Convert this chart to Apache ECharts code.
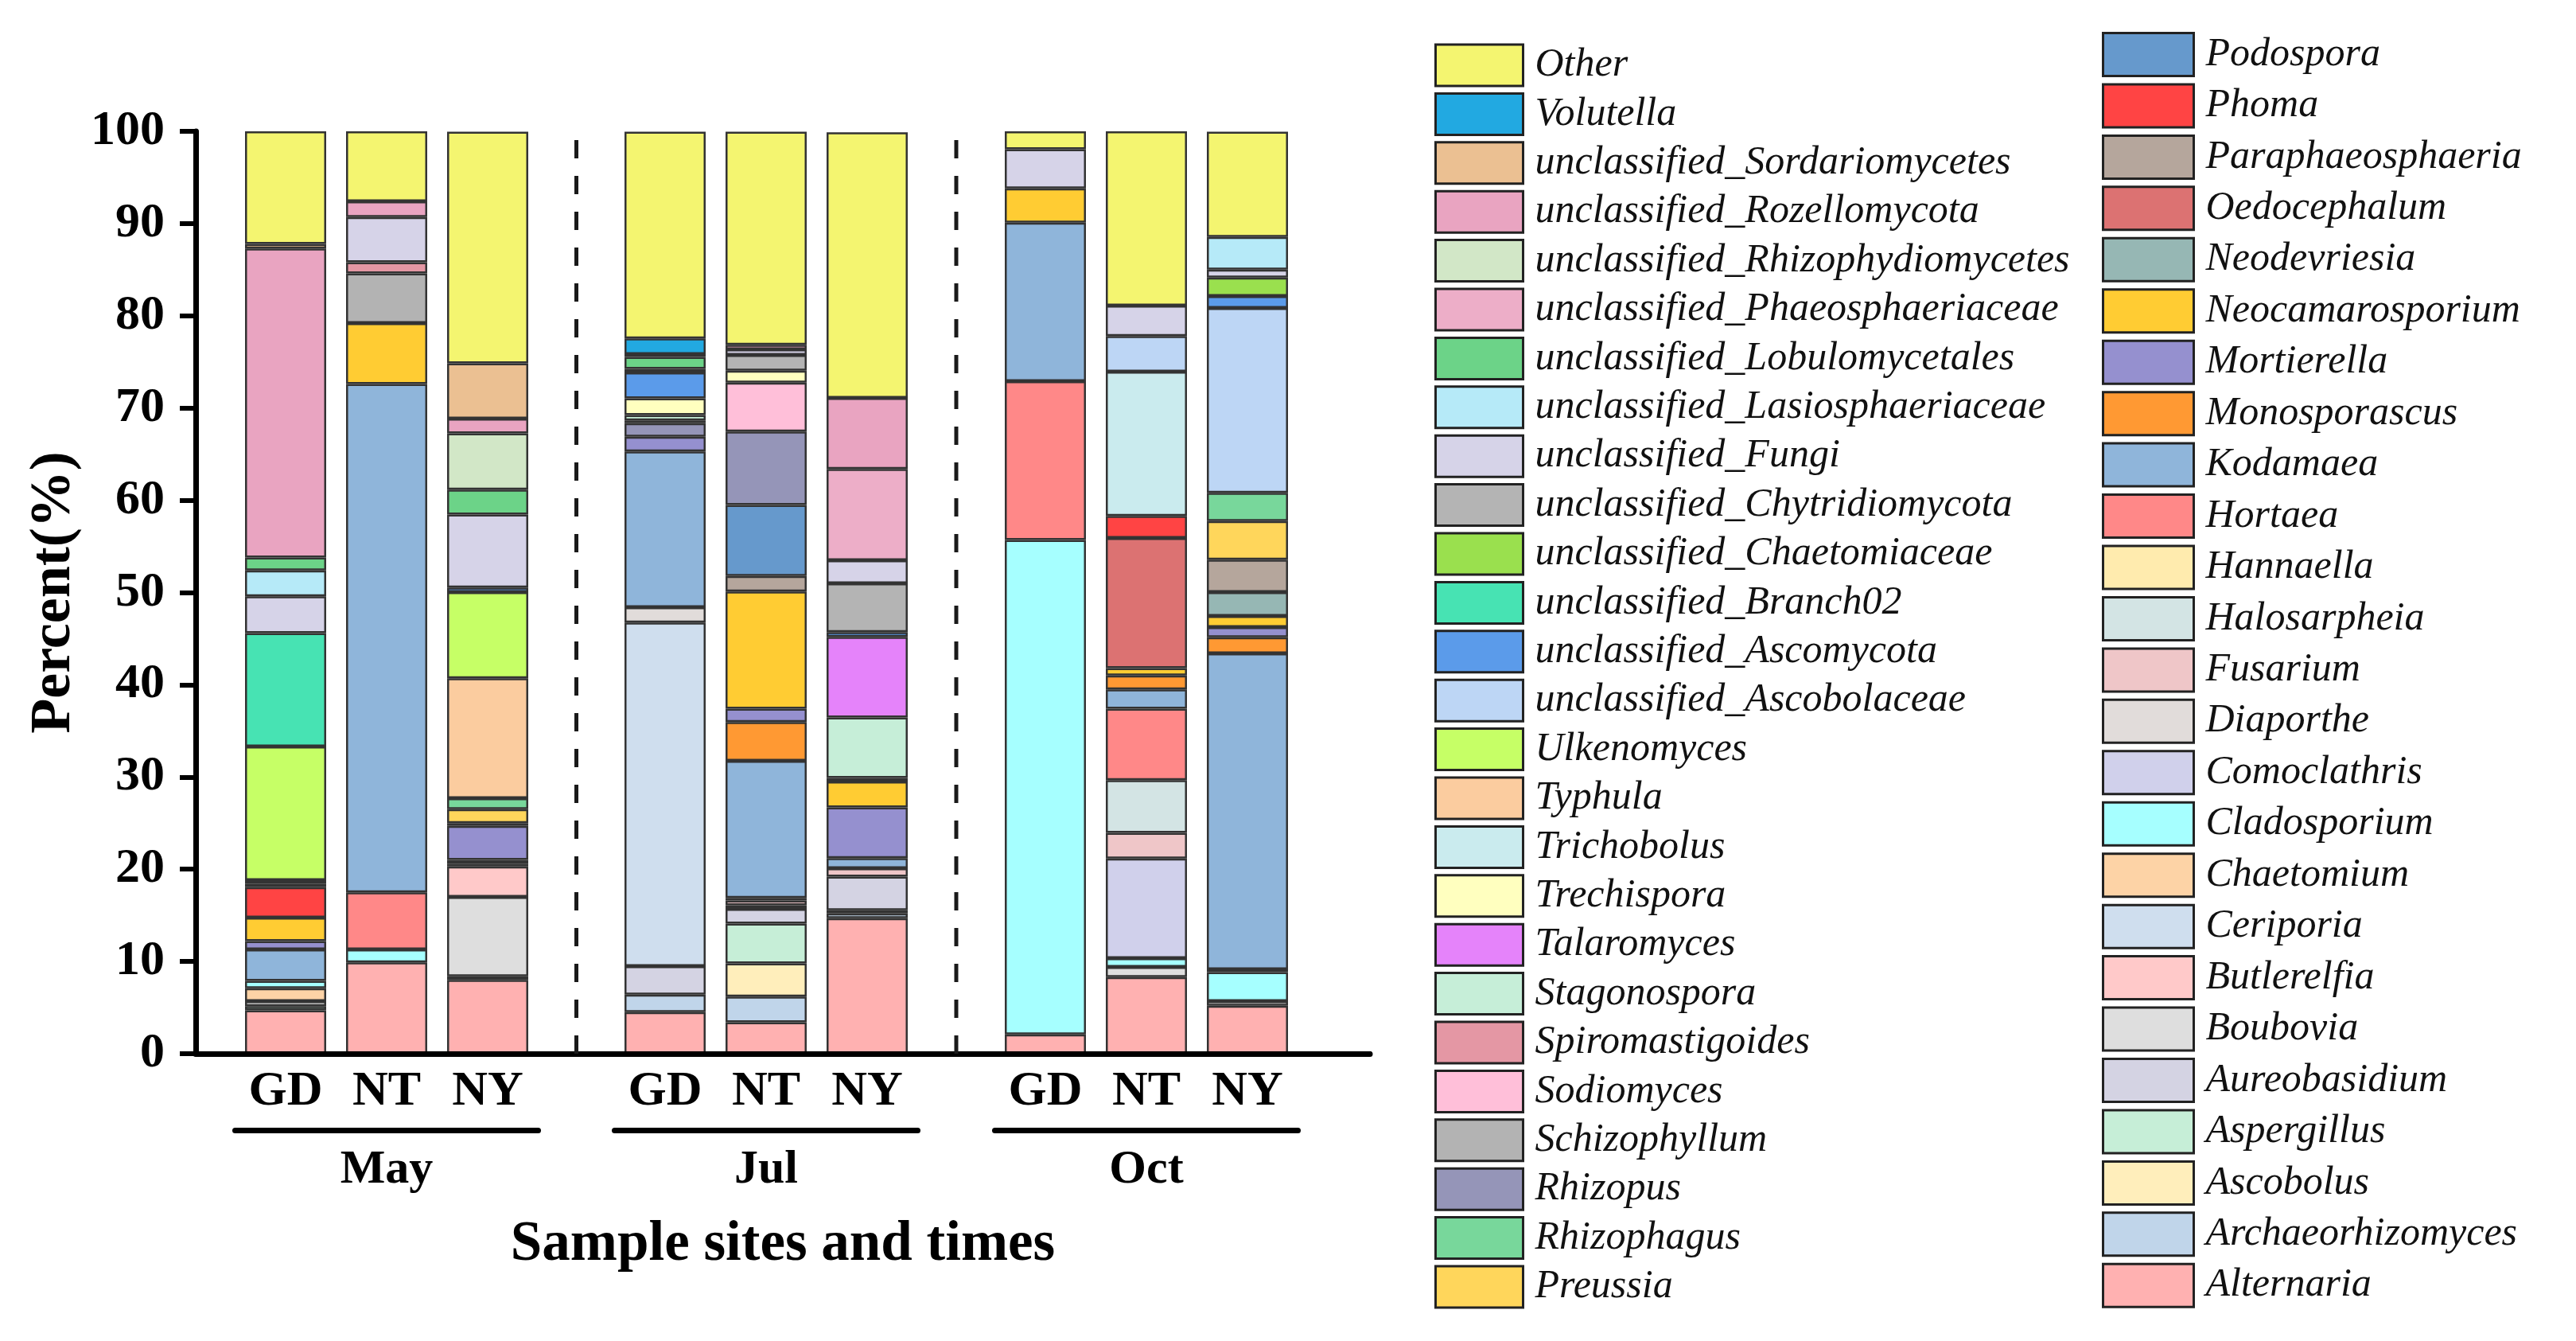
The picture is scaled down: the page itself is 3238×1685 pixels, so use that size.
<!DOCTYPE html>
<html>
<head>
<meta charset="utf-8">
<script src="https://cdn.jsdelivr.net/npm/echarts@6/dist/echarts.min.js"></script>
<style>
html,body{margin:0;padding:0;background:#fff;}
#chart{width:3238px;height:1685px;}
</style>
</head>
<body>
<div id="chart"></div>
<script>
// ---- categories ----
const months = ['May', 'Jul', 'Oct'];
const sites = ['GD', 'NT', 'NY'];
const yTicks = [0, 10, 20, 30, 40, 50, 60, 70, 80, 90, 100];

// legend columns (top to bottom as shown)
const legendCol1 = ['Other', 'Volutella', 'unclassified_Sordariomycetes', 'unclassified_Rozellomycota',
  'unclassified_Rhizophydiomycetes', 'unclassified_Phaeosphaeriaceae', 'unclassified_Lobulomycetales',
  'unclassified_Lasiosphaeriaceae', 'unclassified_Fungi', 'unclassified_Chytridiomycota',
  'unclassified_Chaetomiaceae', 'unclassified_Branch02', 'unclassified_Ascomycota',
  'unclassified_Ascobolaceae', 'Ulkenomyces', 'Typhula', 'Trichobolus', 'Trechispora', 'Talaromyces',
  'Stagonospora', 'Spiromastigoides', 'Sodiomyces', 'Schizophyllum', 'Rhizopus', 'Rhizophagus', 'Preussia'];
const legendCol2 = ['Podospora', 'Phoma', 'Paraphaeosphaeria', 'Oedocephalum', 'Neodevriesia',
  'Neocamarosporium', 'Mortierella', 'Monosporascus', 'Kodamaea', 'Hortaea', 'Hannaella', 'Halosarpheia',
  'Fusarium', 'Diaporthe', 'Comoclathris', 'Cladosporium', 'Chaetomium', 'Ceriporia', 'Butlerelfia',
  'Boubovia', 'Aureobasidium', 'Aspergillus', 'Ascobolus', 'Archaeorhizomyces', 'Alternaria'];

// ---- values (%), order: May GD, NT, NY | Jul GD, NT, NY | Oct GD, NT, NY ----
const Alternaria        = [4.7, 9.9, 8.0, 4.5, 3.4, 14.7, 2.1, 8.3, 5.2];
const Archaeorhizomyces = [0, 0, 0, 1.9, 2.8, 0.5, 0, 0, 0];
const Ascobolus         = [0, 0, 0, 0, 3.6, 0, 0, 0, 0];
const Aspergillus       = [0.45, 0, 0, 0, 4.3, 0.35, 0, 0, 0];
const Aureobasidium     = [0, 0, 0.4, 3.1, 1.6, 3.65, 0, 0, 0];
const Boubovia          = [0.55, 0, 8.6, 0, 0, 0, 0, 1.1, 0.5];
const Butlerelfia       = [0, 0, 3.3, 0, 0, 0, 0, 0, 0];
const Ceriporia         = [0, 0, 0, 37.25, 0, 0, 0, 0, 0];
const Chaetomium        = [1.4, 0, 0, 0, 0, 0, 0, 0, 0];
const Cladosporium      = [0.8, 1.4, 0.3, 0, 0, 0, 53.6, 0.95, 3.15];
const Comoclathris      = [0, 0, 0, 0, 0, 0, 0, 10.8, 0.3];
const Diaporthe         = [0, 0, 0, 1.65, 0.4, 0, 0, 0, 0];
const Fusarium          = [0, 0, 0, 0, 0.5, 0.9, 0, 2.8, 0];
const Halosarpheia      = [0, 0, 0, 0, 0.3, 0, 0, 5.7, 0];
const Hannaella         = [0, 0, 0, 0, 0, 0, 0, 0, 0];
const Hortaea           = [0, 6.2, 0, 0, 0, 0, 17.2, 7.75, 0];
const Kodamaea          = [3.4, 55.1, 0.4, 16.9, 14.85, 1.1, 17.2, 2.1, 34.25];
const Monosporascus     = [0, 0, 0, 0, 4.2, 0, 0, 1.5, 1.75];
const Mortierella       = [0.9, 0, 3.7, 1.6, 1.45, 5.5, 0, 0, 1.1];
const Neocamarosporium  = [2.55, 6.6, 0, 0, 12.7, 2.8, 3.7, 0.8, 1.2];
const Neodevriesia      = [0, 0, 0.3, 0, 0, 0, 0, 0, 2.6];
const Oedocephalum      = [0, 0, 0, 0, 0, 0, 0, 14.1, 0];
const Paraphaeosphaeria = [0, 0, 0, 0, 1.7, 0, 0, 0, 3.5];
const Phoma             = [3.3, 0, 0, 0, 0, 0, 0, 2.4, 0];
const Podospora         = [0, 0, 0, 0, 7.7, 0, 0, 0, 0];
const Preussia          = [0, 0, 1.5, 0, 0, 0, 0, 0, 4.2];
const Rhizophagus       = [0, 0, 1.2, 0, 0, 0, 0, 0, 3.05];
const Rhizopus          = [0.35, 0, 0, 1.45, 7.95, 0.4, 0, 0, 0];
const Schizophyllum     = [0, 5.4, 0, 0, 0, 0, 0, 0, 0];
const Sodiomyces        = [0, 0, 0, 0, 5.3, 0, 0, 0, 0];
const Spiromastigoides  = [0, 1.2, 0, 0.3, 0, 0, 0, 0, 0];
const Stagonospora      = [0, 0, 0, 0.6, 0, 6.55, 0, 0, 0];
const Talaromyces       = [0, 0, 0, 0, 0, 8.75, 0, 0, 0];
const Trechispora       = [0, 0, 0, 1.8, 1.3, 0, 0, 0, 0];
const Trichobolus       = [0, 0, 0, 0, 0, 0, 0, 15.65, 0];
const Typhula           = [0.4, 0, 13.0, 0, 0, 0, 0, 0, 0];
const Ulkenomyces       = [14.5, 0, 9.35, 0, 0, 0, 0, 0, 0];
const unclassified_Ascobolaceae      = [0, 0, 0, 0, 0, 0, 0, 3.85, 20.05];
const unclassified_Ascomycota        = [0, 0, 0.5, 2.8, 0, 0.5, 0, 0, 1.3];
const unclassified_Branch02          = [12.3, 0, 0, 0, 0, 0, 0, 0, 0];
const unclassified_Chaetomiaceae     = [0, 0, 0, 0, 0, 0, 0, 0, 2.0];
const unclassified_Chytridiomycota   = [0, 0, 0, 0, 1.7, 5.3, 0, 0, 0];
const unclassified_Fungi             = [4.0, 4.9, 7.9, 0.4, 0.6, 2.5, 4.25, 3.3, 0.85];
const unclassified_Lasiosphaeriaceae = [2.8, 0, 0, 0, 0, 0, 0, 0, 3.55];
const unclassified_Lobulomycetales   = [1.4, 0, 2.7, 1.3, 0, 0, 0, 0, 0];
const unclassified_Phaeosphaeriaceae = [0, 0, 0, 0, 0, 9.9, 0, 0, 0];
const unclassified_Rhizophydiomycetes= [0, 0, 6.1, 0, 0, 0, 0, 0, 0];
const unclassified_Rozellomycota     = [33.5, 1.7, 1.6, 0.3, 0.5, 7.7, 0, 0, 0];
const unclassified_Sordariomycetes   = [0.5, 0, 6.0, 0, 0, 0, 0, 0, 0];
const Volutella         = [0, 0, 0, 1.7, 0, 0, 0, 0, 0];
const Other             = [12.2, 7.6, 25.1, 22.4, 23.1, 28.8, 1.95, 18.9, 11.4];

const valuesByName = {Alternaria, Archaeorhizomyces, Ascobolus, Aspergillus, Aureobasidium, Boubovia,
  Butlerelfia, Ceriporia, Chaetomium, Cladosporium, Comoclathris, Diaporthe, Fusarium, Halosarpheia,
  Hannaella, Hortaea, Kodamaea, Monosporascus, Mortierella, Neocamarosporium, Neodevriesia, Oedocephalum,
  Paraphaeosphaeria, Phoma, Podospora, Preussia, Rhizophagus, Rhizopus, Schizophyllum, Sodiomyces,
  Spiromastigoides, Stagonospora, Talaromyces, Trechispora, Trichobolus, Typhula, Ulkenomyces,
  unclassified_Ascobolaceae, unclassified_Ascomycota, unclassified_Branch02, unclassified_Chaetomiaceae,
  unclassified_Chytridiomycota, unclassified_Fungi, unclassified_Lasiosphaeriaceae,
  unclassified_Lobulomycetales, unclassified_Phaeosphaeriaceae, unclassified_Rhizophydiomycetes,
  unclassified_Rozellomycota, unclassified_Sordariomycetes, Volutella, Other};

// ---- colours (style) ----
const colors = {
  Other:'#F4F570', Volutella:'#22A9E1', unclassified_Sordariomycetes:'#EBC092',
  unclassified_Rozellomycota:'#E9A4C1', unclassified_Rhizophydiomycetes:'#D2E7C7',
  unclassified_Phaeosphaeriaceae:'#EDAEC8', unclassified_Lobulomycetales:'#6CD388',
  unclassified_Lasiosphaeriaceae:'#B6EAF8', unclassified_Fungi:'#D6D3E8',
  unclassified_Chytridiomycota:'#B4B4B4', unclassified_Chaetomiaceae:'#9AE04E',
  unclassified_Branch02:'#47E3B3', unclassified_Ascomycota:'#5B9BEA', unclassified_Ascobolaceae:'#BDD6F5',
  Ulkenomyces:'#C6FF66', Typhula:'#FBCC9F', Trichobolus:'#CAEBEE', Trechispora:'#FFFFBF',
  Talaromyces:'#E583FA', Stagonospora:'#C6EED8', Spiromastigoides:'#E497A4', Sodiomyces:'#FFBFD9',
  Schizophyllum:'#B3B3B3', Rhizopus:'#9595B8', Rhizophagus:'#78D79B', Preussia:'#FFD65B',
  Podospora:'#6699CC', Phoma:'#FF4444', Paraphaeosphaeria:'#B5A69C', Oedocephalum:'#DC7272',
  Neodevriesia:'#96B7B4', Neocamarosporium:'#FFCC33', Mortierella:'#9590CF', Monosporascus:'#FF9933',
  Kodamaea:'#8FB5DA', Hortaea:'#FF8888', Hannaella:'#FFEBAE', Halosarpheia:'#D3E4E4', Fusarium:'#EFC6C8',
  Diaporthe:'#E1DCDA', Comoclathris:'#D0D0EB', Cladosporium:'#A6FFFF', Chaetomium:'#FDD3A6',
  Ceriporia:'#CFDEEE', Butlerelfia:'#FFC9C9', Boubovia:'#DEDEDE', Aureobasidium:'#D4D3E3',
  Aspergillus:'#C6EED7', Ascobolus:'#FFEEBB', Archaeorhizomyces:'#C0D5EA', Alternaria:'#FFB1B1'
};

// stacking order bottom -> top
const stackOrder = legendCol1.concat(legendCol2).reverse();

const FONT = 'Liberation Serif';
const plot = {left: 246, top: 165, width: 1476, height: 1159};
const groupLeft = [295.5, 772.5, 1250.5];
const groupWidth = 381;

const grids = [{left: plot.left, top: plot.top, width: plot.width, height: plot.height}];
groupLeft.forEach(l => grids.push({left: l, top: plot.top, width: groupWidth, height: plot.height}));

const xAxes = [
  {gridIndex: 0, type: 'value', min: 0, max: 1, position: 'bottom', z: 10,
   axisLine: {show: true, lineStyle: {color: '#000', width: 7}}, axisTick: {show: false},
   axisLabel: {show: false}, splitLine: {show: false},
   name: 'Sample sites and times', nameLocation: 'middle', nameGap: 205,
   nameTextStyle: {fontFamily: FONT, fontWeight: 'bold', fontSize: 71, color: '#000'}},
  {gridIndex: 0, type: 'value', min: 0, max: 1, position: 'top', z: 10,
   axisLine: {show: true, lineStyle: {color: '#000', width: 6}}, axisTick: {show: false},
   axisLabel: {show: false}, splitLine: {show: false}}
];
const yAxes = [
  {gridIndex: 0, type: 'value', min: 0, max: 100, interval: 10, position: 'left', z: 10,
   axisLine: {show: true, lineStyle: {color: '#000', width: 7}},
   axisTick: {show: true, inside: false, length: 20, lineStyle: {color: '#000', width: 6}},
   axisLabel: {fontFamily: FONT, fontWeight: 'bold', fontSize: 62, color: '#000', margin: 39},
   splitLine: {show: false},
   name: 'Percent(%)', nameLocation: 'middle', nameGap: 142, nameRotate: 90,
   nameTextStyle: {fontFamily: FONT, fontWeight: 'bold', fontSize: 72, color: '#000'}},
  {gridIndex: 0, type: 'value', min: 0, max: 100, position: 'right', z: 10,
   axisLine: {show: true, lineStyle: {color: '#000', width: 6}}, axisTick: {show: false},
   axisLabel: {show: false}, splitLine: {show: false}}
];
months.forEach((m, g) => {
  xAxes.push({gridIndex: g + 1, type: 'category', data: sites, position: 'bottom',
    axisLine: {show: false}, axisTick: {show: false},
    axisLabel: {fontFamily: FONT, fontWeight: 'bold', fontSize: 62, color: '#000', margin: 17}});
  xAxes.push({gridIndex: g + 1, type: 'category', data: sites, position: 'bottom', offset: 96,
    axisLine: {show: true, lineStyle: {color: '#000', width: 7}}, axisTick: {show: false},
    axisLabel: {show: false},
    name: m, nameLocation: 'middle', nameGap: 20,
    nameTextStyle: {fontFamily: FONT, fontWeight: 'bold', fontSize: 60, color: '#000'}});
  yAxes.push({gridIndex: g + 1, type: 'value', min: 0, max: 100, show: false});
});

const series = [];
months.forEach((m, g) => {
  stackOrder.forEach(name => {
    const vals = valuesByName[name].slice(g * 3, g * 3 + 3).map(v => (v > 0 ? v : '-'));
    series.push({
      name: name, type: 'bar', stack: 'g' + g,
      xAxisIndex: 2 + g * 2, yAxisIndex: 2 + g,
      barWidth: 102, data: vals,
      itemStyle: {color: colors[name], borderColor: '#333', borderWidth: 2.5},
      emphasis: {disabled: true}
    });
  });
});

const legendText = {fontFamily: FONT, fontStyle: 'italic', fontSize: 50, lineHeight: 46,
  color: '#111', padding: [0, 0, 0, 10]};
const option = {
  backgroundColor: '#fff',
  animation: false,
  grid: grids,
  xAxis: xAxes,
  yAxis: yAxes,
  legend: [
    {orient: 'vertical', left: 1803, top: 54.5, height: 1680, padding: 0, itemWidth: 110, itemHeight: 52,
     itemGap: 6.4, icon: 'rect', data: legendCol1, selectedMode: false, textStyle: legendText,
     itemStyle: {borderColor: '#222', borderWidth: 3}},
    {orient: 'vertical', left: 2642, top: 40, height: 1680, padding: 0, itemWidth: 114, itemHeight: 54,
     itemGap: 7.45, icon: 'rect', data: legendCol2, selectedMode: false, textStyle: legendText,
     itemStyle: {borderColor: '#222', borderWidth: 3}}
  ],
  series: series
};

const chart = echarts.init(document.getElementById('chart'), null, {renderer: 'canvas'});
chart.setOption(option);

// dashed separators between month groups, placed from the axes' own scales
const yTop = chart.convertToPixel({yAxisIndex: 0}, 100);
const yBot = chart.convertToPixel({yAxisIndex: 0}, 0);
const seps = [];
for (let g = 0; g < months.length - 1; g++) {
  const a = chart.convertToPixel({xAxisIndex: 2 + g * 2}, sites.length - 1);
  const b = chart.convertToPixel({xAxisIndex: 2 + (g + 1) * 2}, 0);
  const x = (a + b) / 2;
  seps.push({type: 'line', z: 20, silent: true,
    shape: {x1: x, y1: yBot, x2: x, y2: yTop},
    style: {stroke: '#1a1a1a', lineWidth: 5, lineDash: [23, 22]}});
}
chart.setOption({graphic: seps});
</script>
</body>
</html>
